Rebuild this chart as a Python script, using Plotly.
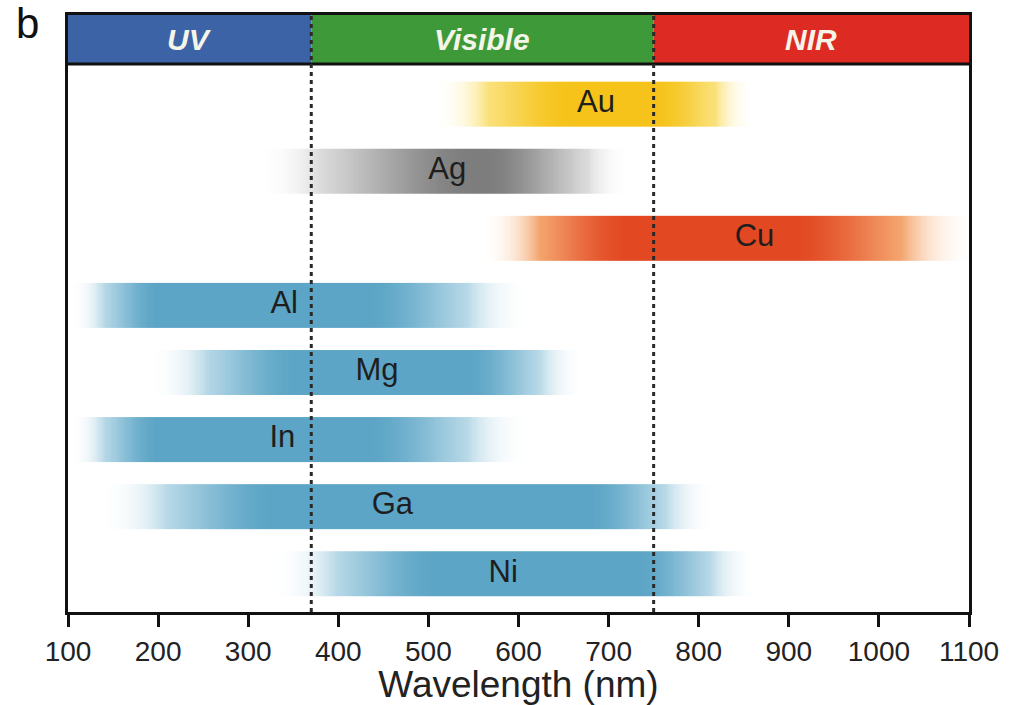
import numpy as np
import plotly.graph_objects as go

# ---------------- data ----------------
metals = ["Au", "Ag", "Cu", "Al", "Mg", "In", "Ga", "Ni"]
row_pos = [8, 7, 6, 5, 4, 3, 2, 1]
range_start = [502, 306, 555, 100, 186, 100, 130, 322]   # nm, where the band fades in
range_end = [864, 724, 1108, 616, 676, 616, 820, 866]    # nm, where the band fades out
fade_in = [160, 250, 170, 100, 170, 100, 200, 190]        # nm
fade_out = [115, 165, 210, 185, 135, 185, 145, 135]       # nm
label_x = [686, 521, 862, 340, 443, 338, 460, 583]

regions = ["UV", "Visible", "NIR"]
region_bounds = [100, 370, 750, 1100]
region_colors = ["#3b63a6", "#3e9a38", "#dd2a22"]

x_ticks = [100, 200, 300, 400, 500, 600, 700, 800, 900, 1000, 1100]

# colour ramps (transparent -> light tint -> core colour)
blue = [[0, "rgba(220,236,244,0)"], [0.35, "rgba(175,212,228,0.9)"], [1, "rgba(92,165,198,1)"]]
ramps = {
    "Au": [[0, "rgba(255,244,190,0)"], [0.35, "rgba(250,222,110,0.9)"], [1, "rgba(245,195,25,1)"]],
    "Ag": [[0, "rgba(235,235,235,0)"], [0.2, "rgba(218,218,218,0.95)"], [1, "rgba(125,125,125,1)"]],
    "Cu": [[0, "rgba(250,205,165,0)"], [0.35, "rgba(243,155,95,0.9)"], [1, "rgba(226,72,34,1)"]],
}

FONT = "Liberation Sans, Arial, sans-serif"
HALF = 0.336
Y_TOP_PLOT = 8.6
Y_TOP = 9.33
Y_BOT = 0.43

fig = go.Figure()

for name, yc, s, e, fi, fo in zip(metals, row_pos, range_start, range_end, fade_in, fade_out):
    xs = np.linspace(s, e, 400)
    prof = np.clip(np.minimum((xs - s) / fi, (e - xs) / fo), 0, 1)
    prof = prof * prof * (3 - 2 * prof)
    fig.add_trace(go.Heatmap(
        x=xs, y=[yc - HALF / 2, yc + HALF / 2], z=[prof, prof],
        colorscale=ramps.get(name, blue), zmin=0, zmax=1,
        showscale=False, hoverinfo="skip", zsmooth="best",
    ))

fig.add_trace(go.Scatter(
    x=label_x, y=row_pos, mode="text", text=metals,
    textfont=dict(size=31, color="#1e1e1e", family=FONT),
    hoverinfo="skip", showlegend=False,
))

shapes = []
for i, col in enumerate(region_colors):
    shapes.append(dict(type="rect", xref="x", yref="y",
                       x0=region_bounds[i], x1=region_bounds[i + 1],
                       y0=Y_TOP_PLOT, y1=Y_TOP, fillcolor=col,
                       line=dict(width=0), layer="below"))
shapes.append(dict(type="line", xref="x", yref="y", x0=region_bounds[0], x1=region_bounds[-1],
                   y0=Y_TOP_PLOT, y1=Y_TOP_PLOT, line=dict(color="#111", width=3), layer="above"))
for b in region_bounds[1:-1]:
    shapes.append(dict(type="line", xref="x", yref="y", x0=b, x1=b, y0=Y_BOT, y1=Y_TOP,
                       line=dict(color="#2a2a2a", width=3, dash="4px,4px"), layer="above"))

annotations = []
for i, lab in enumerate(regions):
    annotations.append(dict(
        x=(region_bounds[i] + region_bounds[i + 1]) / 2, y=(Y_TOP_PLOT + Y_TOP) / 2,
        xref="x", yref="y", text=f"<b><i>{lab}</i></b>", showarrow=False,
        font=dict(size=30, color="#f4f4e8", family=FONT)))
annotations.append(dict(x=-0.045, y=0.985, xref="paper", yref="paper", text="b",
                        showarrow=False, xanchor="center", yanchor="middle",
                        font=dict(size=42, color="#111", family=FONT)))

fig.update_layout(
    width=1011, height=705,
    margin=dict(l=68, r=39, t=14, b=93),
    paper_bgcolor="white", plot_bgcolor="white",
    showlegend=False,
    shapes=shapes, annotations=annotations,
    xaxis=dict(range=[100, 1100], tickvals=x_ticks, ticktext=[str(t) for t in x_ticks],
               ticks="outside", ticklen=12, tickwidth=2.5, tickcolor="#111",
               showline=True, linecolor="#111", linewidth=3, mirror=True,
               showgrid=False, zeroline=False,
               tickfont=dict(size=28, color="#222", family=FONT),
               title=dict(text="Wavelength (nm)", standoff=0,
                          font=dict(size=37, color="#222", family=FONT))),
    yaxis=dict(range=[Y_BOT, Y_TOP], showticklabels=False, ticks="", showgrid=False,
               zeroline=False, showline=True, linecolor="#111", linewidth=3, mirror=True),
)

fig.write_html("out.html")
